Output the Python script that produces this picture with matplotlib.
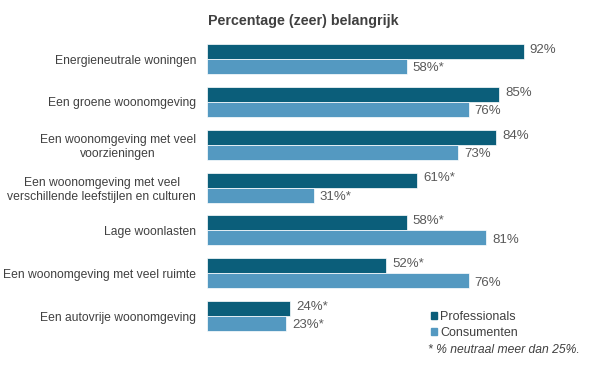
import numpy as np
import matplotlib.pyplot as plt
from matplotlib.patches import Patch

plt.rcParams['font.family'] = ['Liberation Sans', 'DejaVu Sans']

categories = ['Energieneutrale woningen', 'Een groene woonomgeving',
              'Een woonomgeving met veel\nvoorzieningen',
              'Een woonomgeving met veel\nverschillende leefstijlen en culturen',
              'Lage woonlasten', 'Een woonomgeving met veel ruimte',
              'Een autovrije woonomgeving']
professionals = [92, 85, 84, 61, 58, 52, 24]
consumenten = [58, 76, 73, 31, 81, 76, 23]
prof_star = [False, False, False, True, True, True, True]
cons_star = [True, False, False, True, False, False, True]

dark = '#0B5E7A'
light = '#5499C1'
txt = '#404040'

fig = plt.figure(figsize=(5.9, 3.65), dpi=100)
ax = fig.add_axes([0.351, 0.075, 0.583, 0.822])

y = np.arange(len(categories))
h = 0.35
ax.barh(y - h/2, professionals, height=h, color=dark, edgecolor='white', linewidth=0.5)
ax.barh(y + h/2, consumenten, height=h, color=light, edgecolor='white', linewidth=0.5)

for i in range(len(categories)):
    ax.text(professionals[i] + 1.8, y[i] - h/2 - 0.04, f"{professionals[i]}%" + ('*' if prof_star[i] else ''),
            va='center', ha='left', fontsize=9.5, color='#595959')
    ax.text(consumenten[i] + 1.8, y[i] + h/2 + 0.04, f"{consumenten[i]}%" + ('*' if cons_star[i] else ''),
            va='center', ha='left', fontsize=9.5, color='#595959')

ax.set_xlim(0, 100)
ax.set_ylim(len(categories) - 0.5, -0.5)
ax.set_yticks(y)
ax.set_yticklabels(categories, fontsize=8.7, color=txt, ha='right', multialignment='center')
ax.tick_params(axis='y', length=0, pad=8)
ax.set_xticks([])
for s in ax.spines.values():
    s.set_visible(False)

fig.text(0.514, 0.942, 'Percentage (zeer) belangrijk', ha='center', va='center',
         fontsize=10.3, fontweight='bold', color=txt)

handles = [Patch(color=dark, label='Professionals'), Patch(color=light, label='Consumenten')]
fig.legend(handles=handles, loc='upper left', bbox_to_anchor=(0.72, 0.165), frameon=False,
           handlelength=0.45, handleheight=0.45, handletextpad=0.3, labelspacing=0.3,
           fontsize=9, labelcolor=txt, borderpad=0)
fig.text(0.725, 0.04, '* % neutraal meer dan 25%.', fontsize=8.7, style='italic',
         color=txt, va='center')

fig.savefig('out.png', dpi=100)
